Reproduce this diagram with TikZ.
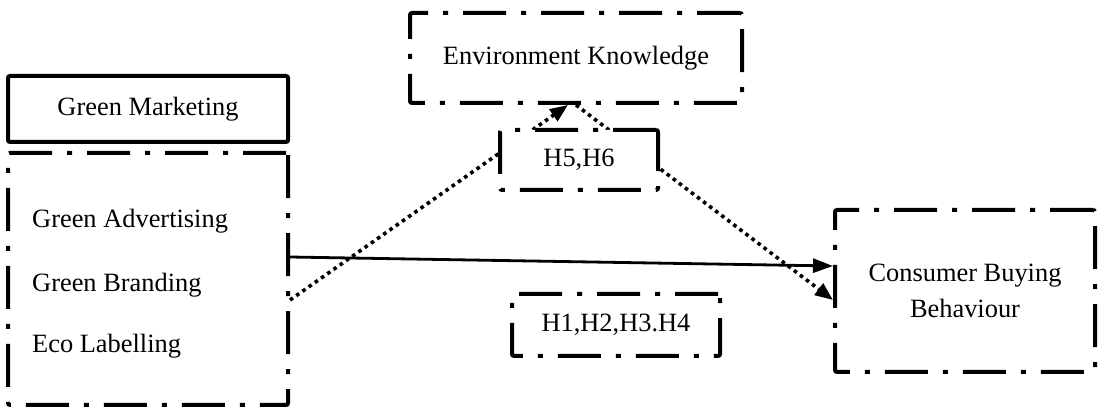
\documentclass[tikz,border=0pt]{standalone}
\usepackage{fontspec}
\setmainfont{Liberation Serif}
\usetikzlibrary{arrows.meta,backgrounds}
\begin{document}
\begin{tikzpicture}[x=1pt,y=-1pt,
  box/.style={draw, line width=4pt, fill=white, inner sep=0pt, font=\fontsize{26.4}{36}\selectfont, align=center},
  dd/.style={box, rounded corners=2pt, dash pattern=on 43pt off 15pt on 5pt off 15pt},
  solidbox/.style={box, rounded corners=2pt},
  lbl/.style={font=\fontsize{26.4}{36}\selectfont, inner sep=0pt, anchor=base west},
  dotline/.style={line width=3.6pt, dash pattern=on 3.6pt off 4pt, -{Triangle[length=18pt,width=14pt]}},
  solidline/.style={line width=2.8pt, -{Triangle[length=20pt,width=14pt]}}]
\useasboundingbox (0,0) rectangle (1098,411);

\node[solidbox, minimum width=280pt, minimum height=66pt] (gm) at (148,109) {Green Marketing};
\node[dd, minimum width=280pt, minimum height=252pt] (gbox) at (148,279) {};
\node[lbl] (ga) at (32,228) {Green Advertising};
\node[lbl] (gb) at (32,292) {Green Branding};
\node[lbl] (el) at (32,353) {Eco Labelling};
\node[dd, minimum width=332pt, minimum height=90pt] (env) at (576,58) {Environment Knowledge};
\node[dd, minimum width=158pt, minimum height=60pt] (h56) at (579,160) {H5,H6};
\node[dd, minimum width=208pt, minimum height=62pt] (h14) at (616,325) {H1,H2,H3.H4};
\node[dd, minimum width=260pt, minimum height=162pt] (cbox) at (965,291) {Consumer Buying\\Behaviour};

\begin{pgfonlayer}{background}
\draw[dotline] ([yshift=-21pt]gbox.east) -- ([xshift=-8pt]env.south);
\draw[dotline] (env.south) -- ([yshift=-9pt]cbox.west);
\end{pgfonlayer}
\draw[solidline] ([yshift=22pt]gbox.east) -- ([yshift=25pt]cbox.west);
\end{tikzpicture}
\end{document}
